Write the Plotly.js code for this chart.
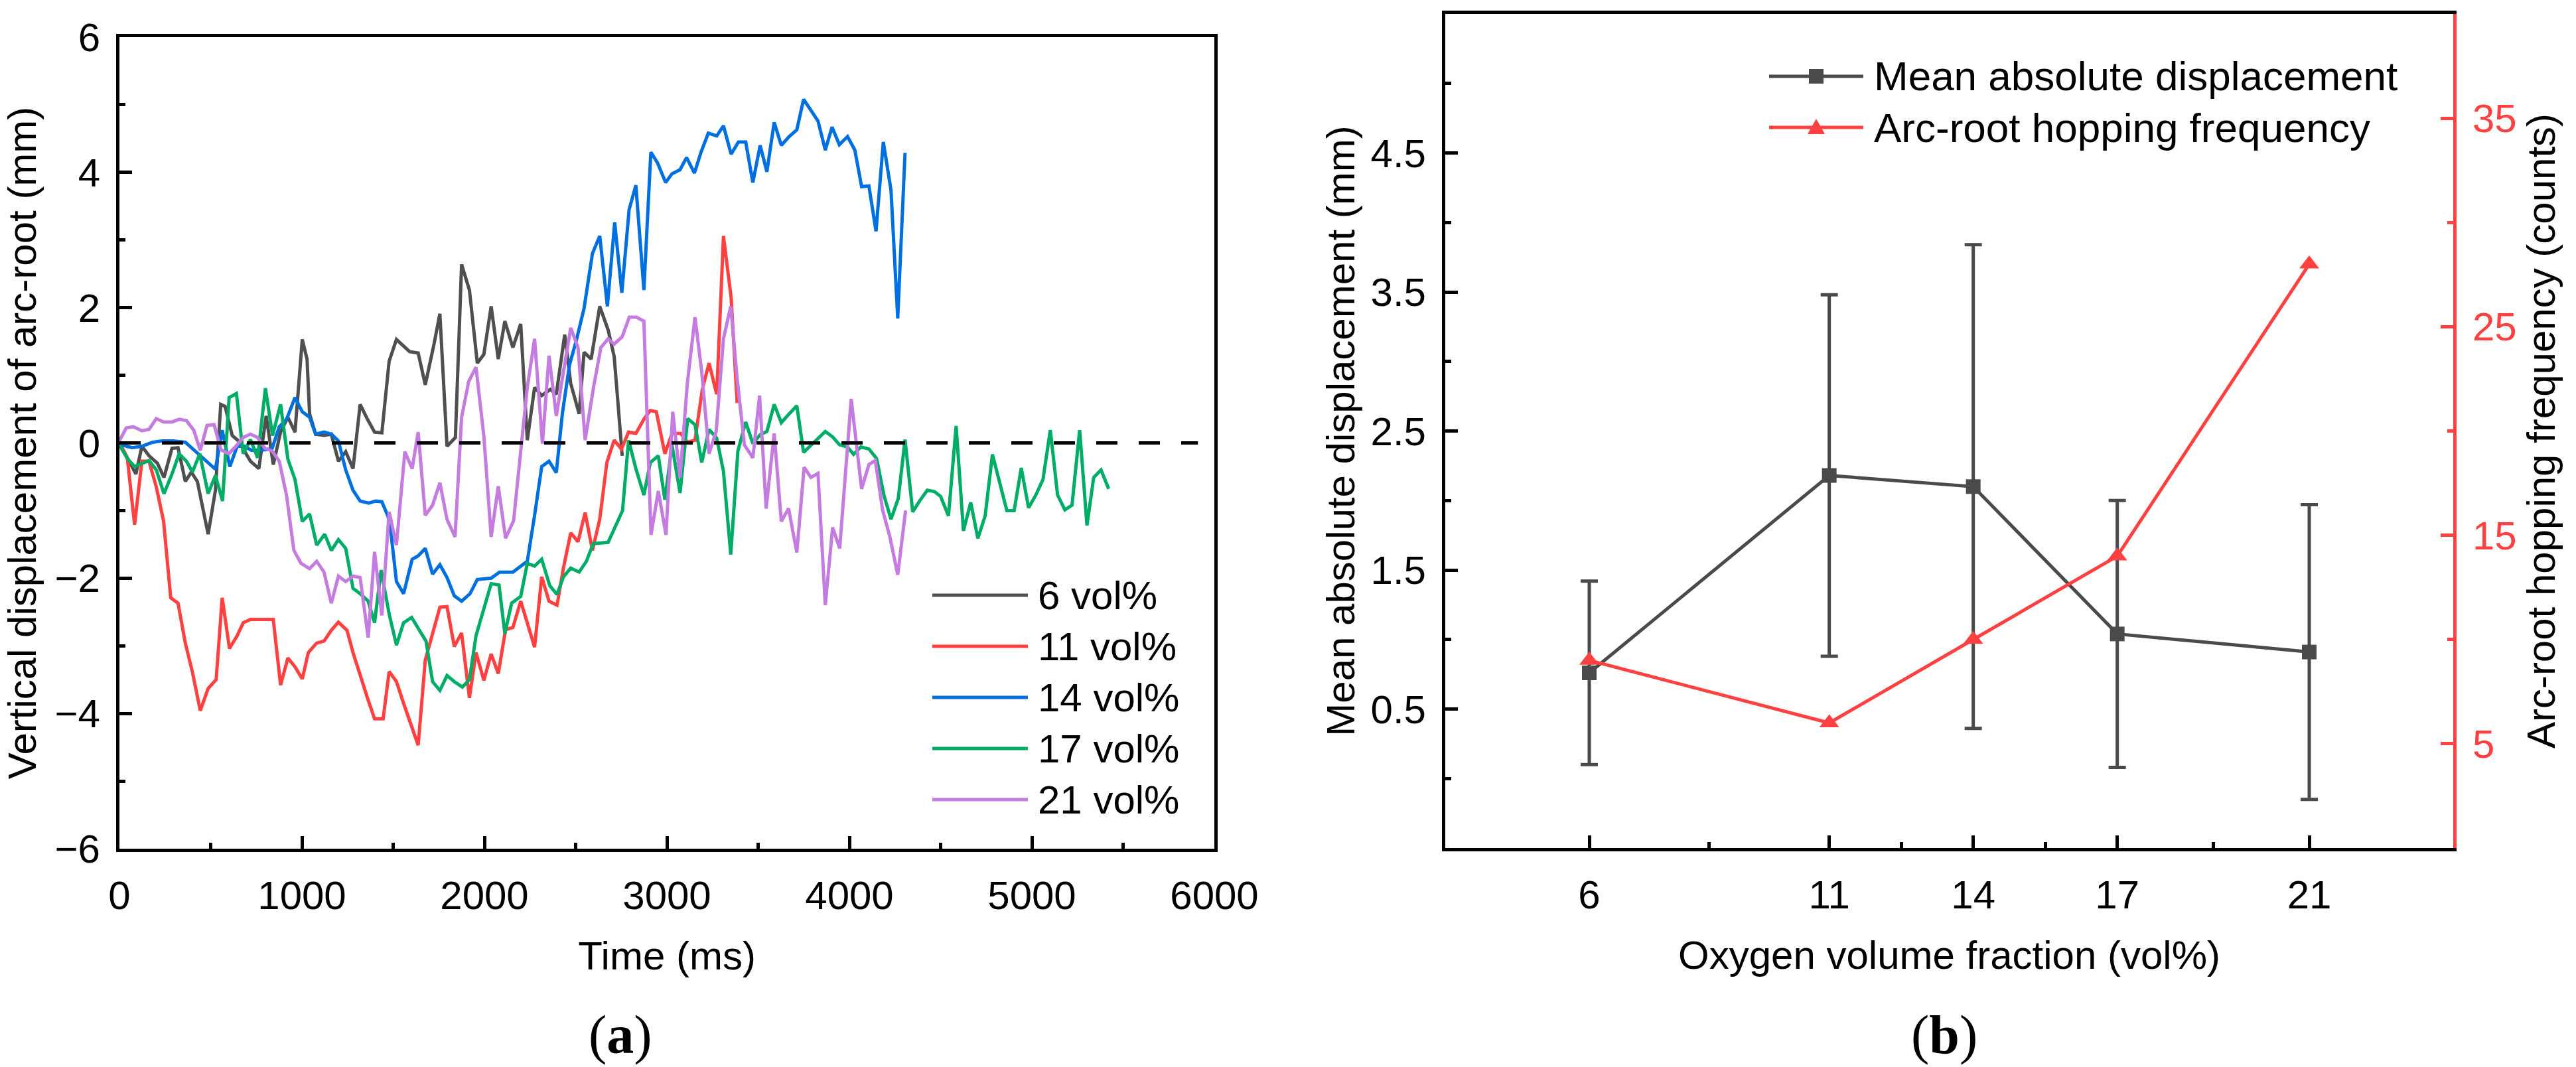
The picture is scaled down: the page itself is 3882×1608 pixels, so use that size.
<!DOCTYPE html>
<html>
<head>
<meta charset="utf-8">
<script src="https://cdn.plot.ly/plotly-3.0.1.min.js"></script>
<style>html,body{margin:0;padding:0;background:#fff;}#chart{width:3882px;height:1608px;}</style>
</head>
<body>
<div id="chart"></div>
<script>
// ---------- Panel (a) data: [time (ms), vertical displacement (mm)] ----------
const s6 = [[0,0],[90,-0.46],[123,-0.05],[162,-0.19],[208,-0.30],[244,-0.51],[288,-0.08],[321,-0.07],[361,-0.57],[394,-0.43],[427,-0.57],[453,-0.91],[486,-1.35],[526,-0.70],[555,0.57],[579,0.54],[618,0.11],[652,0.03],[685,-0.11],[718,-0.27],[764,-0.38],[804,0.40],[843,-0.32],[883,0.16],[923,0.38],[962,0.16],[1002,1.53],[1028,1.24],[1042,0.43],[1075,0.13],[1121,0.11],[1161,0.13],[1200,-0.27],[1240,-0.13],[1280,-0.38],[1319,0.57],[1359,0.35],[1398,0.16],[1438,0.15],[1478,1.21],[1518,1.53],[1590,1.35],[1637,1.33],[1676,0.86],[1723,1.45],[1756,1.91],[1795,-0.05],[1841,0.08],[1875,2.64],[1918,2.26],[1961,1.18],[1997,1.31],[2037,2.02],[2076,1.24],[2112,1.80],[2156,1.41],[2199,1.76],[2235,0.04],[2275,0.82],[2314,0.70],[2361,0.79],[2394,0.72],[2440,1.60],[2473,0.88],[2519,0.43],[2546,1.34],[2585,1.24],[2632,2.02],[2678,1.67],[2711,1.28],[2731,0.62],[2755,-0.19]];
const s11 = [[0,0],[43,-0.22],[83,-1.21],[123,-0.27],[162,-0.27],[202,-0.65],[242,-1.16],[281,-2.29],[321,-2.37],[361,-2.96],[400,-3.39],[443,-3.96],[486,-3.63],[530,-3.50],[563,-2.29],[603,-3.04],[645,-2.85],[678,-2.66],[718,-2.61],[757,-2.61],[843,-2.61],[883,-3.58],[923,-3.18],[962,-3.31],[1002,-3.49],[1035,-3.10],[1081,-2.96],[1121,-2.93],[1161,-2.77],[1200,-2.65],[1247,-2.77],[1280,-3.10],[1319,-3.45],[1359,-3.77],[1398,-4.08],[1445,-4.08],[1478,-3.38],[1518,-3.53],[1557,-3.85],[1597,-4.17],[1637,-4.47],[1676,-3.21],[1716,-2.81],[1756,-2.43],[1795,-2.42],[1835,-3.01],[1875,-2.81],[1918,-3.77],[1954,-3.10],[1997,-3.51],[2037,-3.12],[2076,-3.41],[2116,-2.76],[2156,-2.73],[2199,-2.34],[2275,-3.02],[2314,-1.98],[2354,-2.34],[2398,-2.40],[2433,-1.85],[2473,-1.33],[2513,-1.46],[2552,-1.03],[2592,-1.59],[2632,-1.13],[2671,-0.29],[2711,0.04],[2751,-0.09],[2790,0.16],[2830,0.14],[2876,0.36],[2909,0.48],[2942,0.46],[2989,-0.16],[3028,0.14],[3075,0.14],[3114,0.01],[3154,0.04],[3194,0.79],[3231,1.18],[3273,0.72],[3310,3.06],[3352,2.15],[3385,0.59]];
const s14 = [[0,-0.02],[70,-0.07],[123,-0.05],[182,0.01],[235,0.03],[294,0.03],[361,0.01],[433,-0.16],[480,-0.27],[526,-0.39],[563,0.19],[605,-0.35],[645,-0.05],[685,-0.05],[724,-0.11],[764,-0.11],[804,-0.10],[837,-0.08],[876,0.24],[916,0.35],[962,0.67],[1002,0.46],[1042,0.38],[1075,0.13],[1121,0.16],[1161,0.13],[1200,0.03],[1240,-0.40],[1280,-0.70],[1319,-0.86],[1366,-0.89],[1405,-0.86],[1438,-0.87],[1471,-1.08],[1485,-1.26],[1518,-2.05],[1557,-2.23],[1604,-1.72],[1637,-1.67],[1676,-1.56],[1716,-1.94],[1756,-1.80],[1795,-1.99],[1835,-2.26],[1875,-2.34],[1921,-2.23],[1961,-2.02],[2037,-2.00],[2083,-1.91],[2156,-1.91],[2235,-1.75],[2275,-1.07],[2314,-0.35],[2354,-0.27],[2394,-0.44],[2427,0.43],[2466,1.15],[2506,1.54],[2546,1.99],[2592,2.80],[2632,3.06],[2674,2.02],[2714,3.26],[2753,2.22],[2793,3.45],[2830,3.81],[2874,2.26],[2912,4.30],[2949,4.14],[2993,3.85],[3028,3.98],[3072,4.04],[3108,4.22],[3151,3.99],[3187,4.30],[3227,4.58],[3273,4.54],[3310,4.69],[3352,4.27],[3392,4.45],[3432,4.45],[3471,3.85],[3511,4.40],[3548,4.01],[3588,4.74],[3627,4.40],[3670,4.53],[3712,4.63],[3749,5.08],[3789,4.92],[3828,4.76],[3868,4.33],[3905,4.67],[3945,4.41],[3990,4.53],[4030,4.33],[4067,3.79],[4107,3.80],[4146,3.13],[4186,4.45],[4228,3.74],[4265,1.84],[4305,4.29]];
const s17 = [[0,-0.03],[43,-0.23],[83,-0.35],[123,-0.31],[162,-0.26],[202,-0.40],[244,-0.75],[288,-0.46],[327,-0.16],[367,-0.27],[400,-0.43],[440,-0.16],[486,-0.75],[526,-0.48],[565,-0.86],[601,0.67],[641,0.73],[678,-0.16],[718,0.05],[757,-0.22],[800,0.81],[839,0.11],[883,0.57],[923,-0.24],[962,-0.54],[1002,-1.16],[1042,-1.05],[1081,-1.51],[1125,-1.35],[1161,-1.59],[1200,-1.43],[1240,-1.56],[1280,-2.15],[1319,-2.23],[1363,-2.34],[1398,-2.66],[1434,-1.88],[1478,-2.53],[1518,-2.99],[1557,-2.66],[1601,-2.58],[1637,-2.74],[1680,-2.93],[1716,-3.53],[1756,-3.66],[1795,-3.44],[1835,-3.53],[1879,-3.61],[1918,-3.50],[1954,-2.85],[1997,-2.43],[2037,-2.08],[2080,-2.10],[2112,-2.82],[2149,-2.37],[2199,-2.27],[2235,-1.78],[2275,-1.82],[2314,-1.72],[2358,-2.11],[2398,-2.24],[2433,-1.98],[2473,-1.85],[2519,-1.91],[2559,-1.75],[2596,-1.49],[2678,-1.47],[2718,-1.23],[2757,-1.00],[2790,0.04],[2830,-0.38],[2874,-0.77],[2909,-0.29],[2953,-0.19],[2989,-0.84],[3028,-0.03],[3072,-0.74],[3114,0.36],[3154,0.27],[3191,-0.29],[3231,0.20],[3273,0.07],[3310,-0.42],[3350,-1.65],[3389,-0.12],[3432,0.31],[3471,-0.01],[3511,0.12],[3548,0.17],[3588,0.57],[3627,0.30],[3670,0.43],[3712,0.55],[3749,-0.14],[3789,-0.03],[3828,0.07],[3868,0.17],[3908,0.09],[3947,-0.03],[3990,-0.06],[4023,-0.17],[4063,-0.06],[4107,-0.09],[4149,-0.23],[4189,-0.77],[4228,-1.13],[4268,-0.82],[4305,0.05],[4347,-1.02],[4387,-0.85],[4427,-0.70],[4466,-0.72],[4500,-0.79],[4543,-1.08],[4585,0.25],[4625,-1.30],[4665,-0.88],[4704,-1.41],[4744,-1.08],[4784,-0.17],[4823,-0.60],[4863,-1.00],[4903,-1.00],[4942,-0.37],[4982,-0.96],[5022,-0.77],[5061,-0.54],[5101,0.19],[5141,-0.77],[5181,-0.99],[5220,-0.92],[5262,0.19],[5302,-1.22],[5339,-0.51],[5379,-0.40],[5421,-0.68]];
const s21 = [[0,0.03],[37,0.22],[76,0.24],[123,0.18],[162,0.20],[202,0.36],[242,0.31],[288,0.31],[327,0.35],[367,0.33],[407,0.19],[443,-0.11],[480,0.26],[519,0.27],[556,-0.10],[599,-0.16],[638,-0.05],[678,0.08],[718,0.13],[757,0.08],[797,-0.08],[837,-0.12],[876,-0.27],[916,-0.78],[956,-1.59],[995,-1.78],[1042,-1.86],[1081,-1.75],[1121,-1.91],[1161,-2.37],[1200,-1.97],[1240,-2.05],[1280,-1.97],[1319,-1.99],[1363,-2.88],[1398,-1.61],[1438,-2.55],[1478,-1.02],[1518,-1.51],[1564,-0.13],[1604,-0.38],[1637,0.16],[1676,-1.07],[1716,-0.92],[1756,-0.59],[1795,-1.13],[1839,-1.39],[1875,0.38],[1914,0.91],[1954,1.12],[1997,0.10],[2037,-1.39],[2076,-0.64],[2116,-1.41],[2160,-1.15],[2235,0.82],[2275,1.54],[2318,-0.01],[2354,1.29],[2394,0.40],[2433,1.05],[2473,1.70],[2513,1.41],[2552,0.04],[2596,0.79],[2638,1.41],[2678,1.54],[2711,1.46],[2755,1.57],[2794,1.86],[2834,1.86],[2874,1.80],[2913,-1.36],[2953,-0.71],[2995,-1.36],[3032,0.46],[3072,-0.51],[3112,0.88],[3154,1.86],[3191,1.05],[3231,-0.16],[3270,0.17],[3310,1.54],[3350,2.02],[3385,0.95],[3425,-0.03],[3471,-0.22],[3508,0.70],[3544,-0.97],[3588,0.14],[3627,-1.16],[3667,-0.97],[3712,-1.62],[3752,-0.36],[3789,-0.51],[3828,-0.45],[3868,-2.40],[3908,-1.25],[3947,-1.56],[4010,0.65],[4067,-0.68],[4107,-0.32],[4142,-0.26],[4182,-0.99],[4222,-1.39],[4265,-1.95],[4308,-1.00]];
const seriesNames = ['6 vol%', '11 vol%', '14 vol%', '17 vol%', '21 vol%'];

// ---------- Panel (b) data ----------
const oxygen = [6, 11, 14, 17, 21];
const meanDisp = [0.76, 2.18, 2.10, 1.04, 0.91];
const dispErr = [0.66, 1.30, 1.74, 0.96, 1.06];
const hopFreq = [9, 6, 10, 14, 28];
const oxygenTicks = [6, 11, 14, 17, 21];
const dispTicks = [0.5, 1.5, 2.5, 3.5, 4.5];
const freqTicks = [5, 15, 25, 35];

// ---------- styling / layout helpers ----------
const W = 3882, H = 1608;
const PX = x => x / W;
const PY = y => 1 - y / H;
const FONT = "'Liberation Sans', Arial, sans-serif";
const SERIF = "'Liberation Serif', 'Times New Roman', serif";
const colors = ['#4f4f4f', '#ff4040', '#0070e0', '#00ad66', '#c57ce0'];
const blackSer = '#4a4a4a', redSer = '#ff4040';
const allA = [s6, s11, s14, s17, s21];
const LW = 5;

const traces = allA.map((s, i) => ({
  type: 'scatter', mode: 'lines', name: seriesNames[i],
  x: s.map(p => p[0]), y: s.map(p => p[1]),
  xaxis: 'x', yaxis: 'y', showlegend: false,
  line: {color: colors[i], width: LW}
}));

traces.push({
  type: 'scatter', mode: 'lines+markers', name: 'Mean absolute displacement',
  x: oxygen, y: meanDisp, xaxis: 'x2', yaxis: 'y2', showlegend: false,
  line: {color: blackSer, width: LW},
  marker: {symbol: 'square', size: 22, color: blackSer},
  error_y: {type: 'data', array: dispErr, visible: true, color: blackSer, thickness: 5, width: 13}
});
traces.push({
  type: 'scatter', mode: 'lines+markers', name: 'Arc-root hopping frequency',
  x: oxygen, y: hopFreq, xaxis: 'x2', yaxis: 'y3', showlegend: false,
  line: {color: redSer, width: LW},
  marker: {symbol: 'triangle-up', size: 26, color: redSer}
});

const axBase = {
  showgrid: false, zeroline: false, showline: true, linecolor: '#000', linewidth: 5,
  ticks: 'inside', ticklen: 19, tickwidth: 5, tickcolor: '#000',
  tickfont: {family: FONT, size: 60, color: '#000'}
};

const shapes = [{
  type: 'line', xref: 'x domain', yref: 'y', x0: 0, x1: 0.985, y0: 0, y1: 0,
  line: {color: '#000', width: 5, dash: '32px,32px'}, layer: 'above'
}];
const annotations = [];

// legend (a)
const legA = [897, 974, 1051, 1128, 1205];
seriesNames.forEach((n, i) => {
  shapes.push({type: 'line', xref: 'paper', yref: 'paper', x0: PX(1405), x1: PX(1549), y0: PY(legA[i]), y1: PY(legA[i]),
    line: {color: colors[i], width: LW}});
  annotations.push({xref: 'paper', yref: 'paper', x: PX(1562), y: PY(legA[i]), xanchor: 'left', yanchor: 'middle',
    text: n, showarrow: false, font: {family: FONT, size: 60, color: '#000'}});
});

// legend (b)
const legB = [{y: 115, c: blackSer, t: 'Mean absolute displacement', m: 'sq'}, {y: 192, c: redSer, t: 'Arc-root hopping frequency', m: 'tri'}];
legB.forEach(e => {
  shapes.push({type: 'line', xref: 'paper', yref: 'paper', x0: PX(2666), x1: PX(2808), y0: PY(e.y), y1: PY(e.y), line: {color: e.c, width: LW}});
  if (e.m === 'sq') {
    shapes.push({type: 'rect', xref: 'paper', yref: 'paper', x0: PX(2726), x1: PX(2748), y0: PY(e.y + 11), y1: PY(e.y - 11), fillcolor: e.c, line: {width: 0}});
  } else {
    const cx = 2737, cy = e.y;
    shapes.push({type: 'path', xref: 'paper', yref: 'paper',
      path: `M ${PX(cx - 13)} ${PY(cy + 10)} L ${PX(cx + 13)} ${PY(cy + 10)} L ${PX(cx)} ${PY(cy - 13)} Z`, fillcolor: e.c, line: {width: 0}});
  }
  annotations.push({xref: 'paper', yref: 'paper', x: PX(2822), y: PY(e.y), xanchor: 'left', yanchor: 'middle',
    text: e.t, showarrow: false, font: {family: FONT, size: 62, color: '#000'}});
});

// captions
annotations.push({xref: 'paper', yref: 'paper', x: PX(935), y: PY(1559), xanchor: 'center', yanchor: 'middle',
  text: '(<b>a</b>)', showarrow: false, font: {family: SERIF, size: 82, color: '#000'}});
annotations.push({xref: 'paper', yref: 'paper', x: PX(2930), y: PY(1559), xanchor: 'center', yanchor: 'middle',
  text: '(<b>b</b>)', showarrow: false, font: {family: SERIF, size: 82, color: '#000'}});

const layout = {
  width: W, height: H, margin: {l: 0, r: 0, t: 0, b: 0, pad: 0},
  paper_bgcolor: '#fff', plot_bgcolor: 'rgba(0,0,0,0)', showlegend: false,
  font: {family: FONT, size: 60, color: '#000'},
  xaxis: Object.assign({}, axBase, {
    domain: [PX(180), PX(1830)], range: [0, 6000], anchor: 'y', dtick: 1000, tick0: 0, mirror: true,
    ticklabelstandoff: 14,
    minor: {dtick: 500, tick0: 0, ticks: 'inside', ticklen: 9, tickwidth: 5, tickcolor: '#000'},
    title: {text: 'Time (ms)', font: {family: FONT, size: 60}, standoff: 38}
  }),
  yaxis: Object.assign({}, axBase, {
    domain: [PY(1279), PY(56)], range: [-6, 6], anchor: 'x', dtick: 2, tick0: 0, mirror: true,
    ticklabelstandoff: 12,
    minor: {dtick: 1, tick0: 0, ticks: 'inside', ticklen: 9, tickwidth: 5, tickcolor: '#000'},
    title: {text: 'Vertical displacement of arc-root (mm)', font: {family: FONT, size: 60}, standoff: 18}
  }),
  xaxis2: Object.assign({}, axBase, {
    domain: [PX(2178), PX(3697)], range: [3, 24], anchor: 'y2', tickmode: 'array', tickvals: oxygenTicks, mirror: true,
    ticklabelstandoff: 14,
    minor: {tickmode: 'array', tickvals: [8.5, 12.5, 15.5, 19], ticks: 'inside', ticklen: 9, tickwidth: 5, tickcolor: '#000'},
    title: {text: 'Oxygen volume fraction (vol%)', font: {family: FONT, size: 60}, standoff: 38}
  }),
  yaxis2: Object.assign({}, axBase, {
    domain: [PY(1278), PY(21)], range: [-0.5, 5.5], anchor: 'x2', tickmode: 'array', tickvals: dispTicks, mirror: false,
    ticklabelstandoff: 12,
    minor: {tickmode: 'array', tickvals: [0, 1, 2, 3, 4, 5], ticks: 'inside', ticklen: 9, tickwidth: 5, tickcolor: '#000'},
    title: {text: 'Mean absolute displacement (mm)', font: {family: FONT, size: 60}, standoff: 6}
  }),
  yaxis3: Object.assign({}, axBase, {
    domain: [PY(1278), PY(21)], range: [0, 40], anchor: 'x2', overlaying: 'y2', side: 'right',
    tickmode: 'array', tickvals: freqTicks, linecolor: redSer, tickcolor: redSer,
    ticklabelstandoff: 12,
    tickfont: {family: FONT, size: 60, color: redSer},
    minor: {tickmode: 'array', tickvals: [10, 20, 30], ticks: 'inside', ticklen: 9, tickwidth: 5, tickcolor: redSer},
    title: {text: 'Arc-root hopping frequency (counts)', font: {family: FONT, size: 60, color: '#000'}, standoff: 18}
  }),
  shapes: shapes,
  annotations: annotations
};

Plotly.newPlot('chart', traces, layout, {staticPlot: true, displayModeBar: false});
</script>
</body>
</html>
